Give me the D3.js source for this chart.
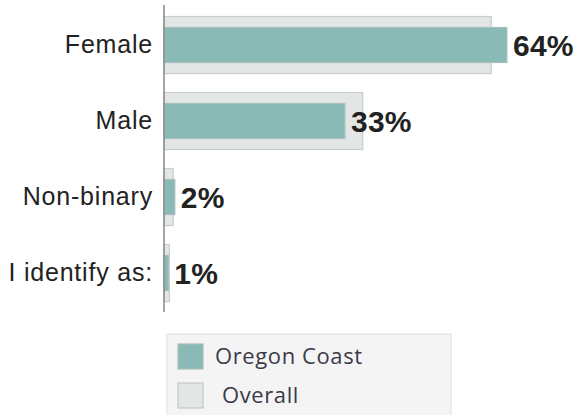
<!DOCTYPE html>
<html><head><meta charset="utf-8">
<script src="https://cdn.jsdelivr.net/npm/d3@7"></script>
<style>body{margin:0;background:#fff}svg{display:block}</style>
</head><body>
<script>
const categories = ["Female", "Male", "Non-binary", "I identify as:"];
const oregonCoast = [63.5, 33.5, 2.0, 0.8];
const overall = [60.6, 36.8, 1.7, 1.0];
const valueLabels = ["64%", "33%", "2%", "1%"];
const legendLabels = ["Oregon Coast", "Overall"];

const W = 587, H = 415;
const svg = d3.select("body").append("svg").attr("width", W).attr("height", H);

const x = d3.scaleLinear().domain([0, 100]).range([164, 704]);
const y = d3.scaleBand().domain(categories).range([7, 311]).paddingInner(18/76).paddingOuter(9/76);

const rows = categories.map((c, i) => ({c, o: oregonCoast[i], a: overall[i], l: valueLabels[i]}));

// overall bars
svg.selectAll("rect.overall").data(rows).join("rect")
  .attr("x", x(0)).attr("y", d => y(d.c) + 0.5)
  .attr("width", d => x(d.a) - x(0)).attr("height", y.bandwidth() - 1)
  .attr("fill", "#e2e6e5").attr("stroke", "#c9cdcc").attr("stroke-width", 1.2);

// oregon bars
const ih = 35;
svg.selectAll("rect.oregon").data(rows).join("rect")
  .attr("x", x(0)).attr("y", d => y(d.c) + (y.bandwidth() - ih) / 2)
  .attr("width", d => x(d.o) - x(0)).attr("height", ih)
  .attr("fill", "#89bab6").attr("stroke", "#a9bfbc").attr("stroke-width", 1.2);

// value labels
svg.selectAll("text.val").data(rows).join("text")
  .attr("x", d => x(d.o) + 6).attr("y", d => y(d.c) + y.bandwidth() / 2)
  .attr("dy", "0.36em")
  .attr("font-family", "Liberation Sans, Arial, sans-serif").attr("font-weight", "bold")
  .attr("font-size", 30).attr("letter-spacing", 0.3).attr("fill", "#222").text(d => d.l);

// y axis
const yAxis = d3.axisLeft(y).tickSize(0).tickPadding(11);
const g = svg.append("g").attr("transform", `translate(${x(0)},0)`).call(yAxis);
g.select(".domain").attr("stroke", "#888").attr("stroke-width", 1.5).attr("d", "M0,5V312");
g.selectAll("text").attr("font-family", "Liberation Sans, Arial, sans-serif")
  .attr("font-size", 25).attr("letter-spacing", 0.8).attr("fill", "#222");

// legend
const lg = svg.append("g");
lg.append("rect").attr("x", 167).attr("y", 334).attr("width", 284).attr("height", 90)
  .attr("fill", "#f4f4f4").attr("stroke", "#e8e8e8").attr("stroke-width", 1.5);
const swFill = ["#89bab6", "#e2e6e5"];
const swStroke = ["#a9bfbc", "#c4c8c7"];
lg.selectAll("rect.sw").data(legendLabels).join("rect")
  .attr("x", 178).attr("y", (d, i) => 344 + i * 39).attr("width", 25).attr("height", 25)
  .attr("fill", (d, i) => swFill[i]).attr("stroke", (d, i) => swStroke[i]).attr("stroke-width", 1.2);
lg.selectAll("text.lt").data(legendLabels).join("text")
  .attr("x", (d, i) => i === 0 ? 215 : 222).attr("y", (d, i) => 356 + i * 39).attr("dy", "0.36em")
  .attr("font-family", "Open Sans, sans-serif").attr("font-size", 22).attr("letter-spacing", 0.6)
  .attr("fill", "#3a3a48").text(d => d);
</script>
</body></html>
